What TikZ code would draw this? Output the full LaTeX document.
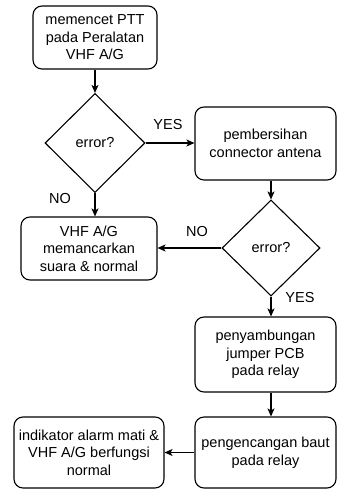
\documentclass[tikz,border=0pt]{standalone}
\usepackage{fontspec}
\setmainfont{Liberation Sans}
\usetikzlibrary{shapes.geometric,arrows.meta}
\tikzset{
    flowtext/.style={font=\fontsize{14.5}{17.5}\selectfont},
    stepbox/.style={flowtext, draw, rounded corners=9pt, line width=1.1pt, align=center, inner sep=2pt},
    decision/.style={flowtext, draw, diamond, line width=1.1pt, inner sep=0pt},
    flow/.style={-{Stealth[length=8pt,width=7pt,inset=2pt]}, line width=1.1pt}
}
\begin{document}
\begin{tikzpicture}[x=1pt, y=-1pt]
            \useasboundingbox (0, 0) rectangle (337, 490);
            \node[stepbox, minimum width=124pt, minimum height=63pt] (ptt) at (95, 37.5) {memencet PTT\\pada Peralatan\\VHF A/G};
            \node[decision, minimum width=100pt, minimum height=99pt] (err1) at (95, 143) {error?};
            \node[stepbox, minimum width=141pt, minimum height=73pt] (clean) at (265.5, 143.5) {pembersihan\\connector antena};
            \node[decision, minimum width=98pt, minimum height=96pt] (err2) at (271, 248) {error?};
            \node[stepbox, minimum width=136pt, minimum height=63pt] (normal) at (89, 248.5) {VHF A/G\\memancarkan\\suara \& normal};
            \node[stepbox, minimum width=141pt, minimum height=75pt] (jumper) at (265.5, 354.5) {penyambungan\\jumper PCB\\pada relay};
            \node[stepbox, minimum width=141pt, minimum height=71pt] (baut) at (265.5, 452.5) {pengencangan baut\\pada relay};
            \node[stepbox, minimum width=150pt, minimum height=71pt] (alarm) at (89, 452.5) {indikator alarm mati \&\\VHF A/G berfungsi\\normal};
            \node[flowtext] (yes1) at (168, 125) {YES};
            \node[flowtext] (no1) at (60, 199) {NO};
            \node[flowtext] (no2) at (197, 232) {NO};
            \node[flowtext] (yes2) at (300, 298) {YES};
            \draw[flow] (ptt) -- (err1);
            \draw[flow] (err1) -- (clean.west |- err1);
            \draw[flow] (err1) -- (err1 |- normal.north);
            \draw[flow] (clean.south -| err2) -- (err2);
            \draw[flow] (err2) -- (normal.east |- err2);
            \draw[flow] (err2) -- (jumper.north -| err2);
            \draw[flow] (jumper.south -| err2) -- (baut.north -| err2);
            \draw[flow] (baut) -- (alarm);
        \end{tikzpicture}
\end{document}
